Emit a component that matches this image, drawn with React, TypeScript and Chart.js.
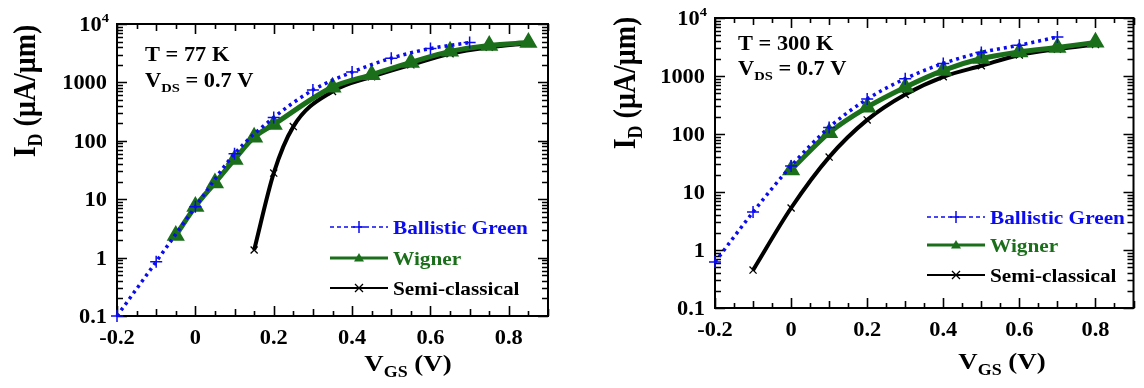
import React, { useEffect, useRef } from "react";
import { Chart, registerables } from "chart.js";

Chart.register(...registerables);

// ---- T = 77 K ----
const ballistic77V = [-0.2, -0.1, 0, 0.1, 0.2, 0.3, 0.4, 0.5, 0.6, 0.7];
const ballistic77I = [0.1, 0.85, 7.4, 60, 250, 740, 1500, 2600, 3800, 4800];
const wigner77V = [-0.05, 0, 0.05, 0.1, 0.15, 0.2, 0.35, 0.45, 0.55, 0.65, 0.75, 0.85];
const wigner77I = [2.4, 7.5, 19, 48, 115, 190, 830, 1350, 2200, 3400, 4300, 4800];
const semi77V = [0.15, 0.2, 0.25, 0.35, 0.45, 0.55, 0.65, 0.75, 0.85];
const semi77I = [1.35, 28, 175, 700, 1250, 2000, 3100, 4000, 4700];

// ---- T = 300 K ----
const ballistic300V = [-0.2, -0.1, 0, 0.1, 0.2, 0.3, 0.4, 0.5, 0.6, 0.7];
const ballistic300I = [0.62, 4.5, 28, 130, 400, 900, 1650, 2550, 3400, 4700];
const wigner300V = [0, 0.1, 0.2, 0.3, 0.4, 0.5, 0.6, 0.7, 0.8];
const wigner300I = [24, 105, 290, 640, 1250, 2000, 2600, 3100, 3800];
const semi300V = [-0.1, 0, 0.1, 0.2, 0.3, 0.4, 0.5, 0.6, 0.7, 0.8];
const semi300I = [0.45, 5.3, 40, 175, 480, 970, 1500, 2300, 2900, 3500];

// ---- axes ----
const xTickValues = [-0.2, 0, 0.2, 0.4, 0.6, 0.8];
const xTickLabels = ["-0.2", "0", "0.2", "0.4", "0.6", "0.8"];
const yTickValues = [0.1, 1, 10, 100, 1000, 10000];
const yTickLabels = ["0.1", "1", "10", "100", "1000", "10^4"];
const seriesNames = ["Ballistic Green", "Wigner", "Semi-classical"];

const BLUE = "#0b0bf0";
const GREEN = "#1b6f1b";
const BLACK = "#000000";
const SERIF = '"Liberation Serif", "DejaVu Serif", serif';
const SX = 1.12;

type Seg = { s: string; size: number; dy?: number };

function richWidth(ctx: CanvasRenderingContext2D, segs: Seg[]) {
  let w = 0;
  for (const g of segs) {
    ctx.font = `bold ${g.size}px ${SERIF}`;
    w += ctx.measureText(g.s).width;
  }
  return w;
}

// draws a run of text segments on an alphabetic baseline, horizontally widened
function rich(
  ctx: CanvasRenderingContext2D,
  segs: Seg[],
  x: number,
  y: number,
  align: "left" | "right" | "center",
  color: string
) {
  ctx.save();
  ctx.fillStyle = color;
  ctx.textBaseline = "alphabetic";
  ctx.textAlign = "left";
  const w = richWidth(ctx, segs) * SX;
  const x0 = align === "left" ? x : align === "right" ? x - w : x - w / 2;
  ctx.translate(x0, y);
  ctx.scale(SX, 1);
  let cx = 0;
  for (const g of segs) {
    ctx.font = `bold ${g.size}px ${SERIF}`;
    ctx.fillText(g.s, cx, g.dy || 0);
    cx += ctx.measureText(g.s).width;
  }
  ctx.restore();
}

function drawPlus(ctx: CanvasRenderingContext2D, x: number, y: number, r: number, c: string) {
  ctx.save();
  ctx.strokeStyle = c;
  ctx.lineWidth = 1.5;
  ctx.setLineDash([]);
  ctx.beginPath();
  ctx.moveTo(x - r, y);
  ctx.lineTo(x + r, y);
  ctx.moveTo(x, y - r);
  ctx.lineTo(x, y + r);
  ctx.stroke();
  ctx.restore();
}

function drawTri(ctx: CanvasRenderingContext2D, x: number, y: number, r: number, c: string) {
  ctx.save();
  ctx.fillStyle = c;
  ctx.beginPath();
  ctx.moveTo(x, y - r);
  ctx.lineTo(x + r, y + r * 0.7);
  ctx.lineTo(x - r, y + r * 0.7);
  ctx.closePath();
  ctx.fill();
  ctx.restore();
}

function drawX(ctx: CanvasRenderingContext2D, x: number, y: number, r: number, c: string) {
  ctx.save();
  ctx.strokeStyle = c;
  ctx.lineWidth = 1.3;
  ctx.setLineDash([]);
  ctx.beginPath();
  ctx.moveTo(x - r, y - r);
  ctx.lineTo(x + r, y + r);
  ctx.moveTo(x - r, y + r);
  ctx.lineTo(x + r, y - r);
  ctx.stroke();
  ctx.restore();
}

type PanelSpec = {
  temp: string;
  bV: number[];
  bI: number[];
  wV: number[];
  wI: number[];
  sV: number[];
  sI: number[];
  area: { left: number; top: number; right: number; bottom: number };
  yTitle: { x: number; y: number };
  xTitle: { x: number; y: number };
  note: { x: number; y1: number; y2: number };
  legend: { x: number; rows: number[] };
};

const W = 572;
const H = 388;

const panels: PanelSpec[] = [
  {
    temp: "T = 77 K",
    bV: ballistic77V,
    bI: ballistic77I,
    wV: wigner77V,
    wI: wigner77I,
    sV: semi77V,
    sI: semi77I,
    area: { left: 117, top: 24, right: 548, bottom: 316 },
    yTitle: { x: 25, y: 91 },
    xTitle: { x: 408, y: 371 },
    note: { x: 145, y1: 61, y2: 87 },
    legend: { x: 330, rows: [227, 258, 288] },
  },
  {
    temp: "T = 300 K",
    bV: ballistic300V,
    bI: ballistic300I,
    wV: wigner300V,
    wI: wigner300I,
    sV: semi300V,
    sI: semi300I,
    area: { left: 143, top: 18, right: 568, bottom: 308 },
    yTitle: { x: 53, y: 83 },
    xTitle: { x: 430, y: 369 },
    note: { x: 166, y1: 50, y2: 75 },
    legend: { x: 355, rows: [217, 245, 275] },
  },
];

function decorPlugin(p: PanelSpec) {
  return {
    id: "decor",
    beforeDatasetsDraw(chart: any) {
      const ctx: CanvasRenderingContext2D = chart.ctx;
      const { left, top, right, bottom } = chart.chartArea;
      const xs = chart.scales.x;
      const ys = chart.scales.y;
      ctx.save();
      ctx.strokeStyle = "#000";
      ctx.lineWidth = 2;
      ctx.strokeRect(left, top, right - left, bottom - top);
      ctx.lineWidth = 1.6;
      ctx.beginPath();
      for (let k = -4; k <= 18; k++) {
        const px = Math.round(xs.getPixelForValue(k * 0.05)) + 0.5;
        if (px > right + 1) continue;
        const len = k % 4 === 0 ? 10 : k % 2 === 0 ? 7 : 5;
        ctx.moveTo(px, bottom);
        ctx.lineTo(px, bottom - len);
        ctx.moveTo(px, top);
        ctx.lineTo(px, top + len);
      }
      for (let d = -1; d <= 4; d++) {
        for (let m = 1; m <= 9; m++) {
          if (d === 4 && m > 1) break;
          const v = m * Math.pow(10, d);
          const py = Math.round(ys.getPixelForValue(v)) + 0.5;
          const len = m === 1 ? 10 : 6;
          ctx.moveTo(left, py);
          ctx.lineTo(left + len, py);
          ctx.moveTo(right, py);
          ctx.lineTo(right - len, py);
        }
      }
      ctx.stroke();
      ctx.restore();
    },
    afterDraw(chart: any) {
      const ctx: CanvasRenderingContext2D = chart.ctx;
      const { left, bottom } = chart.chartArea;
      const xs = chart.scales.x;
      const ys = chart.scales.y;

      // x tick labels
      xTickValues.forEach((v, i) => {
        rich(ctx, [{ s: xTickLabels[i], size: 20 }], xs.getPixelForValue(v), bottom + 28, "center", BLACK);
      });
      // y tick labels
      yTickValues.forEach((v, i) => {
        const py = ys.getPixelForValue(v) + 7;
        const lab = yTickLabels[i];
        if (lab.includes("^")) {
          const [b, e] = lab.split("^");
          rich(ctx, [{ s: b, size: 20 }, { s: e, size: 13, dy: -9 }], left - 8, py, "right", BLACK);
        } else {
          rich(ctx, [{ s: lab, size: 20 }], left - 10, py, "right", BLACK);
        }
      });

      // axis titles
      rich(
        ctx,
        [
          { s: "V", size: 24 },
          { s: "GS", size: 16, dy: 6 },
          { s: " (V)", size: 24 },
        ],
        p.xTitle.x,
        p.xTitle.y,
        "center",
        BLACK
      );
      ctx.save();
      ctx.translate(p.yTitle.x, p.yTitle.y);
      ctx.scale(SX, 1);
      ctx.rotate(-Math.PI / 2);
      {
        const segs: Seg[] = [
          { s: "I", size: 28 },
          { s: "D", size: 18, dy: 6 },
          { s: " (\u03bcA/\u03bcm)", size: 28 },
        ];
        const w = richWidth(ctx, segs);
        ctx.fillStyle = BLACK;
        ctx.textAlign = "left";
        ctx.textBaseline = "alphabetic";
        let cx = -w / 2;
        for (const g of segs) {
          ctx.font = `bold ${g.size}px ${SERIF}`;
          ctx.fillText(g.s, cx, 9 + (g.dy || 0));
          cx += ctx.measureText(g.s).width;
        }
      }
      ctx.restore();

      // conditions
      rich(ctx, [{ s: p.temp, size: 20 }], p.note.x, p.note.y1, "left", BLACK);
      rich(
        ctx,
        [
          { s: "V", size: 20 },
          { s: "DS", size: 13, dy: 5 },
          { s: " = 0.7 V", size: 20 },
        ],
        p.note.x,
        p.note.y2,
        "left",
        BLACK
      );

      // legend
      const lx = p.legend.x;
      const lw = 58;
      const [r1, r2, r3] = p.legend.rows;
      ctx.save();
      ctx.lineWidth = 1.5;
      ctx.strokeStyle = BLUE;
      ctx.setLineDash([4, 3]);
      ctx.beginPath();
      ctx.moveTo(lx, r1);
      ctx.lineTo(lx + lw, r1);
      ctx.stroke();
      ctx.setLineDash([]);
      ctx.lineWidth = 3;
      ctx.strokeStyle = GREEN;
      ctx.beginPath();
      ctx.moveTo(lx, r2);
      ctx.lineTo(lx + lw, r2);
      ctx.stroke();
      ctx.lineWidth = 2;
      ctx.strokeStyle = BLACK;
      ctx.beginPath();
      ctx.moveTo(lx, r3);
      ctx.lineTo(lx + lw, r3);
      ctx.stroke();
      ctx.restore();
      drawPlus(ctx, lx + lw / 2, r1, 6, BLUE);
      drawTri(ctx, lx + lw / 2, r2, 5, GREEN);
      drawX(ctx, lx + lw / 2, r3, 4, BLACK);
      rich(ctx, [{ s: seriesNames[0], size: 19 }], lx + lw + 5, r1 + 7, "left", BLUE);
      rich(ctx, [{ s: seriesNames[1], size: 19 }], lx + lw + 5, r2 + 7, "left", GREEN);
      rich(ctx, [{ s: seriesNames[2], size: 19 }], lx + lw + 5, r3 + 7, "left", BLACK);
    },
  };
}

const pts = (v: number[], i: number[]) => v.map((x, k) => ({ x, y: i[k] }));

function Panel({ spec, offset }: { spec: PanelSpec; offset: number }) {
  const ref = useRef<HTMLCanvasElement | null>(null);
  useEffect(() => {
    if (!ref.current) return;
    const a = spec.area;
    const chart = new Chart(ref.current, {
      type: "line",
      data: {
        datasets: [
          {
            label: seriesNames[0],
            data: pts(spec.bV, spec.bI),
            borderColor: BLUE,
            borderWidth: 3.5,
            borderDash: [3, 4],
            pointStyle: "cross",
            pointRadius: 6,
            pointBorderWidth: 1.5,
            pointBorderColor: BLUE,
            cubicInterpolationMode: "monotone",
            clip: false,
          },
          {
            label: seriesNames[1],
            data: pts(spec.wV, spec.wI),
            borderColor: GREEN,
            borderWidth: 5,
            pointStyle: "triangle",
            pointRadius: 5.5,
            pointBackgroundColor: GREEN,
            pointBorderColor: GREEN,
            cubicInterpolationMode: "monotone",
            clip: false,
          },
          {
            label: seriesNames[2],
            data: pts(spec.sV, spec.sI),
            borderColor: BLACK,
            borderWidth: 4,
            pointStyle: "crossRot",
            pointRadius: 5,
            pointBorderWidth: 1.3,
            pointBorderColor: BLACK,
            cubicInterpolationMode: "monotone",
            clip: false,
          },
        ],
      },
      options: {
        responsive: false,
        animation: false,
        devicePixelRatio: 1,
        layout: {
          padding: { left: a.left, top: a.top, right: W - a.right, bottom: H - a.bottom },
        },
        scales: {
          x: { type: "linear", min: -0.2, max: 0.9, display: false },
          y: { type: "logarithmic", min: 0.1, max: 10000, display: false },
        },
        plugins: { legend: { display: false }, tooltip: { enabled: false } },
      } as any,
      plugins: [decorPlugin(spec)],
    });
    return () => chart.destroy();
  }, [spec]);
  return (
    <canvas
      ref={ref}
      width={W}
      height={H}
      style={{ position: "absolute", left: offset, top: 0, width: W, height: H }}
    />
  );
}

export default function App() {
  return (
    <div style={{ position: "absolute", left: 0, top: 0, width: 1144, height: 388, background: "#fff" }}>
      <Panel spec={panels[0]} offset={0} />
      <Panel spec={panels[1]} offset={572} />
    </div>
  );
}
